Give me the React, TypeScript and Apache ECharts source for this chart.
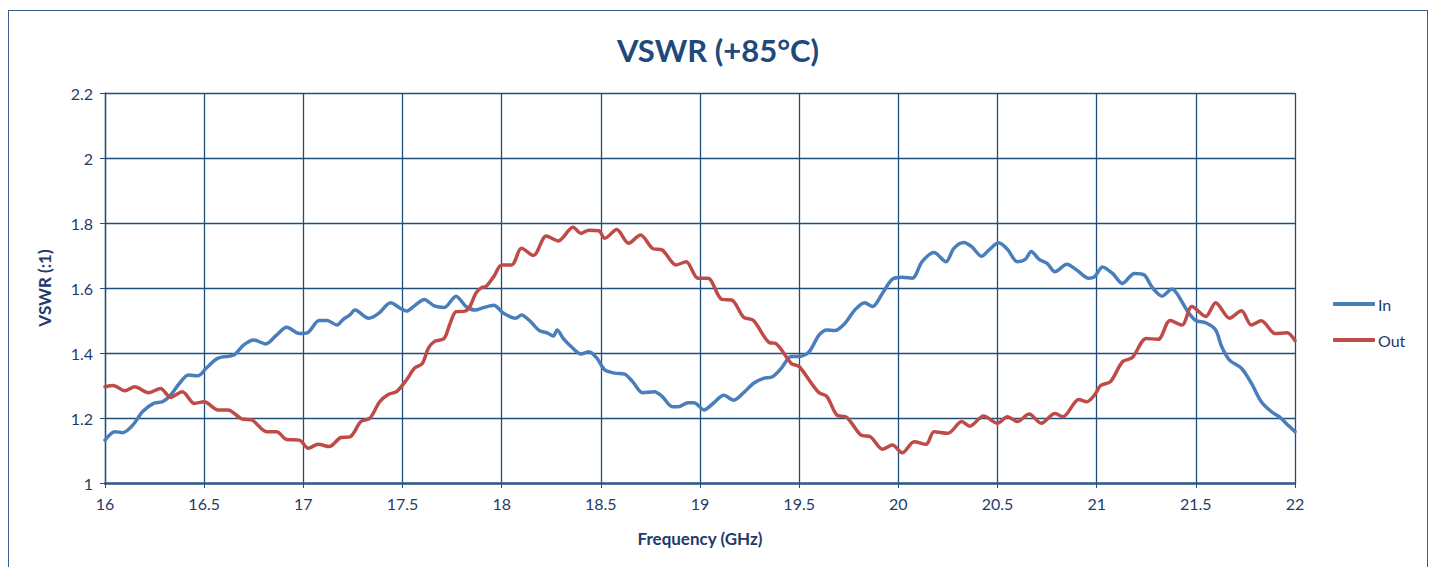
import React, { useEffect, useRef } from "react";
import * as echarts from "echarts";

const inFreq = [16.00, 16.05, 16.09, 16.14, 16.19, 16.245, 16.29, 16.33, 16.38, 16.42, 16.47, 16.51, 16.57, 16.65, 16.70, 16.75, 16.81, 16.865, 16.916, 16.98, 17.02, 17.08, 17.12, 17.17, 17.20, 17.235, 17.26, 17.33, 17.38, 17.44, 17.49, 17.52, 17.56, 17.61, 17.66, 17.71, 17.77, 17.82, 17.865, 17.91, 17.96, 18.01, 18.07, 18.10, 18.14, 18.19, 18.23, 18.26, 18.28, 18.31, 18.35, 18.40, 18.44, 18.48, 18.52, 18.57, 18.62, 18.66, 18.71, 18.77, 18.81, 18.86, 18.89, 18.94, 18.97, 19.02, 19.07, 19.12, 19.17, 19.22, 19.27, 19.32, 19.365, 19.41, 19.46, 19.50, 19.55, 19.60, 19.64, 19.68, 19.73, 19.78, 19.83, 19.87, 19.92, 19.97, 20.02, 20.07, 20.12, 20.18, 20.24, 20.28, 20.33, 20.37, 20.42, 20.46, 20.505, 20.55, 20.60, 20.64, 20.67, 20.71, 20.75, 20.79, 20.85, 20.90, 20.96, 20.99, 21.03, 21.08, 21.13, 21.19, 21.24, 21.28, 21.33, 21.38, 21.41, 21.46, 21.50, 21.55, 21.60, 21.63, 21.67, 21.73, 21.78, 21.83, 21.88, 21.92, 21.97, 22.00];
const inVswr = [1.132, 1.158, 1.155, 1.178, 1.22, 1.245, 1.25, 1.27, 1.31, 1.332, 1.33, 1.353, 1.384, 1.394, 1.425, 1.44, 1.428, 1.455, 1.479, 1.46, 1.462, 1.50, 1.50, 1.486, 1.503, 1.517, 1.532, 1.507, 1.522, 1.555, 1.537, 1.529, 1.545, 1.565, 1.545, 1.54, 1.575, 1.543, 1.532, 1.54, 1.547, 1.522, 1.507, 1.517, 1.50, 1.469, 1.462, 1.452, 1.471, 1.445, 1.42, 1.397, 1.404, 1.384, 1.348, 1.338, 1.335, 1.312, 1.278, 1.281, 1.266, 1.235, 1.235, 1.247, 1.247, 1.225, 1.247, 1.27, 1.255, 1.278, 1.307, 1.322, 1.327, 1.353, 1.389, 1.389, 1.404, 1.455, 1.471, 1.469, 1.491, 1.532, 1.555, 1.543, 1.584, 1.627, 1.633, 1.63, 1.681, 1.709, 1.681, 1.722, 1.74, 1.727, 1.698, 1.719, 1.739, 1.719, 1.681, 1.688, 1.712, 1.688, 1.676, 1.65, 1.673, 1.655, 1.63, 1.635, 1.665, 1.645, 1.614, 1.645, 1.64, 1.602, 1.575, 1.597, 1.578, 1.527, 1.50, 1.493, 1.471, 1.42, 1.378, 1.353, 1.307, 1.25, 1.22, 1.204, 1.175, 1.158];

const outFreq = [16.00, 16.04, 16.10, 16.15, 16.22, 16.28, 16.33, 16.39, 16.45, 16.50, 16.57, 16.62, 16.69, 16.74, 16.815, 16.865, 16.916, 16.98, 17.025, 17.075, 17.13, 17.19, 17.235, 17.29, 17.335, 17.385, 17.43, 17.47, 17.52, 17.56, 17.60, 17.63, 17.66, 17.71, 17.74, 17.77, 17.815, 17.84, 17.87, 17.90, 17.92, 17.96, 18.00, 18.05, 18.10, 18.16, 18.225, 18.285, 18.36, 18.40, 18.44, 18.49, 18.52, 18.58, 18.64, 18.70, 18.76, 18.81, 18.88, 18.93, 18.99, 19.04, 19.11, 19.16, 19.22, 19.27, 19.35, 19.38, 19.46, 19.50, 19.55, 19.60, 19.64, 19.69, 19.74, 19.81, 19.86, 19.92, 19.97, 20.02, 20.08, 20.14, 20.18, 20.25, 20.32, 20.36, 20.43, 20.50, 20.55, 20.60, 20.66, 20.72, 20.79, 20.83, 20.91, 20.95, 20.99, 21.02, 21.07, 21.13, 21.18, 21.25, 21.31, 21.37, 21.43, 21.48, 21.55, 21.60, 21.67, 21.73, 21.78, 21.83, 21.90, 21.96, 22.00];
const outVswr = [1.296, 1.30, 1.284, 1.296, 1.278, 1.291, 1.264, 1.281, 1.245, 1.25, 1.225, 1.225, 1.197, 1.194, 1.158, 1.158, 1.134, 1.132, 1.107, 1.119, 1.112, 1.14, 1.142, 1.189, 1.199, 1.25, 1.273, 1.281, 1.317, 1.353, 1.368, 1.414, 1.435, 1.445, 1.491, 1.527, 1.529, 1.543, 1.584, 1.602, 1.604, 1.635, 1.671, 1.671, 1.722, 1.70, 1.76, 1.745, 1.787, 1.768, 1.778, 1.776, 1.753, 1.78, 1.738, 1.763, 1.722, 1.717, 1.671, 1.681, 1.63, 1.63, 1.565, 1.563, 1.51, 1.50, 1.432, 1.43, 1.368, 1.358, 1.317, 1.278, 1.266, 1.209, 1.202, 1.148, 1.142, 1.104, 1.117, 1.093, 1.127, 1.119, 1.158, 1.153, 1.189, 1.175, 1.206, 1.184, 1.204, 1.189, 1.212, 1.184, 1.214, 1.204, 1.257, 1.25, 1.271, 1.30, 1.312, 1.373, 1.386, 1.445, 1.442, 1.50, 1.486, 1.543, 1.512, 1.555, 1.507, 1.53, 1.486, 1.499, 1.46, 1.462, 1.438];

const seriesNames = ["In", "Out"];
const titleText = "VSWR (+85°C)";
const xAxisName = "Frequency (GHz)";
const yAxisName = "VSWR (:1)";

const FONT = "Lato, 'Open Sans', sans-serif";
const TEXT = "#1F3B6B";
const GRID = "#1F4E7A";

export default function App() {
  const ref = useRef<HTMLDivElement>(null);
  useEffect(() => {
    if (!ref.current) return;
    const chart = echarts.init(ref.current, undefined, { renderer: "svg" });
    const inData = inFreq.map((f, i) => [f, inVswr[i]]);
    const outData = outFreq.map((f, i) => [f, outVswr[i]]);
    chart.setOption({
      animation: false,
      backgroundColor: "#ffffff",
      title: {
        text: titleText,
        left: "center",
        top: 18,
        textStyle: { fontFamily: FONT, fontSize: 31, fontWeight: "bold", color: "#1F497D" },
      },
      legend: {
        orient: "vertical",
        left: 1319,
        top: 280,
        itemWidth: 42,
        itemHeight: 4,
        itemGap: 20,
        icon: "roundRect",
        textStyle: { fontFamily: FONT, fontSize: 16, color: TEXT, padding: [0, 0, 0, -2] },
        data: seriesNames,
      },
      grid: { left: 96, right: 132, top: 82, bottom: 84 },
      xAxis: {
        type: "value",
        min: 16,
        max: 22,
        interval: 0.5,
        name: xAxisName,
        nameLocation: "middle",
        nameGap: 47,
        nameTextStyle: { fontFamily: FONT, fontSize: 17, fontWeight: "bold", color: TEXT },
        axisLine: { show: true, lineStyle: { color: "#385D8A", width: 2.5 } },
        axisTick: { show: true, length: 5, lineStyle: { color: GRID, width: 1 } },
        axisLabel: { fontFamily: FONT, fontSize: 16, color: TEXT, margin: 12 },
        splitLine: { show: true, lineStyle: { color: GRID, width: 1.3 } },
      },
      yAxis: {
        type: "value",
        min: 1,
        max: 2.2,
        interval: 0.2,
        name: yAxisName,
        nameLocation: "middle",
        nameGap: 52,
        nameTextStyle: { fontFamily: FONT, fontSize: 17, fontWeight: "bold", color: TEXT },
        axisLine: { show: true, lineStyle: { color: GRID, width: 1.3 } },
        axisTick: { show: true, length: 5, lineStyle: { color: GRID, width: 1 } },
        axisLabel: { fontFamily: FONT, fontSize: 16, color: TEXT, margin: 12 },
        splitLine: { show: true, lineStyle: { color: GRID, width: 1.3 } },
      },
      series: [
        {
          name: seriesNames[0],
          type: "line",
          data: inData,
          smooth: 0.3,
          showSymbol: false,
          lineStyle: { color: "#4A7EBB", width: 3.5, cap: "round", join: "round" },
          itemStyle: { color: "#4A7EBB" },
        },
        {
          name: seriesNames[1],
          type: "line",
          data: outData,
          smooth: 0.3,
          showSymbol: false,
          lineStyle: { color: "#BE4B48", width: 3.5, cap: "round", join: "round" },
          itemStyle: { color: "#BE4B48" },
        },
      ],
    });
    return () => chart.dispose();
  }, []);

  return (
    <div
      style={{
        position: "absolute",
        left: 8,
        top: 10,
        width: 1420,
        height: 557,
        boxSizing: "border-box",
        borderTop: "1.5px solid #385D8A",
        borderLeft: "1px solid #385D8A",
        borderRight: "1px solid #385D8A",
        background: "#ffffff",
      }}
    >
      <div ref={ref} style={{ width: 1418, height: 556 }} />
    </div>
  );
}
